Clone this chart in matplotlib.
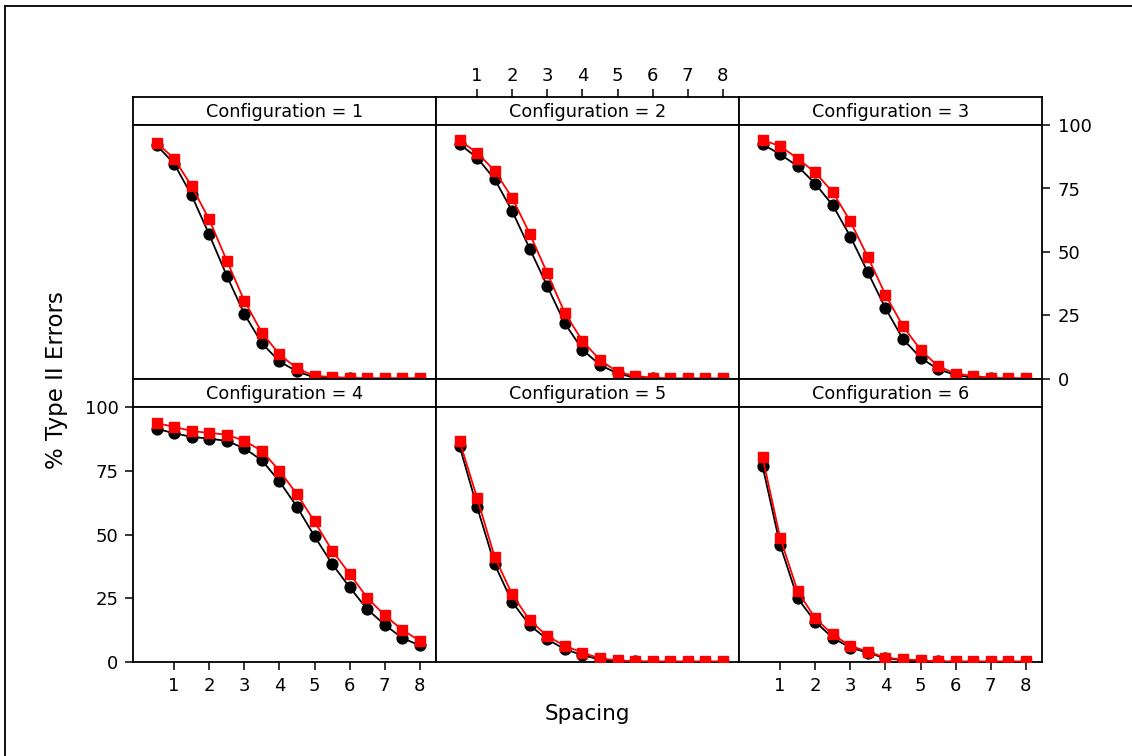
import matplotlib
matplotlib.use("Agg")
import matplotlib.pyplot as plt
from matplotlib.lines import Line2D

plt.rcParams['font.family'] = ['DejaVu Sans']

W, H = 1132, 756

spacing = [0.5, 1.0, 1.5, 2.0, 2.5, 3.0, 3.5, 4.0, 4.5, 5.0, 5.5, 6.0, 6.5, 7.0, 7.5, 8.0]
config_labels = ["Configuration = 1", "Configuration = 2", "Configuration = 3",
                 "Configuration = 4", "Configuration = 5", "Configuration = 6"]

# % Type II errors, black circles and red squares, one pair per configuration
conf1_black = [92.1, 84.8, 72.3, 56.9, 40.7, 25.6, 14.1, 6.9, 3.0, 0.6, 0.3, 0.2, 0.1, 0.1, 0.1, 0.1]
conf1_red = [93.1, 86.8, 75.9, 62.8, 46.6, 30.8, 18.3, 9.7, 4.2, 1.2, 0.8, 0.4, 0.3, 0.3, 0.3, 0.3]

conf2_black = [92.5, 87.1, 78.7, 66.1, 51.3, 36.5, 21.9, 11.6, 5.5, 2.2, 0.5, 0.2, 0.1, 0.1, 0.1, 0.1]
conf2_red = [93.9, 89.1, 82.0, 71.3, 57.2, 41.6, 26.0, 15.0, 7.5, 2.8, 1.2, 0.5, 0.2, 0.2, 0.2, 0.2]

conf3_black = [92.4, 88.5, 83.8, 76.9, 68.4, 56.1, 42.0, 27.9, 15.7, 8.4, 3.8, 1.6, 0.5, 0.2, 0.1, 0.1]
conf3_red = [94.1, 91.7, 86.8, 81.3, 73.6, 62.1, 48.0, 33.2, 20.8, 11.5, 5.0, 2.1, 1.2, 0.5, 0.3, 0.3]

conf4_black = [91.5, 89.7, 88.3, 87.6, 86.7, 83.8, 79.1, 70.8, 60.9, 49.3, 38.5, 29.3, 20.7, 14.6, 9.4, 6.5]
conf4_red = [93.7, 92.2, 90.6, 89.8, 89.2, 86.7, 82.8, 75.0, 65.8, 55.1, 43.7, 34.6, 25.2, 18.3, 12.6, 8.3]

conf5_black = [84.7, 60.8, 38.3, 23.5, 14.4, 8.9, 5.0, 2.7, 1.0, 0.4, 0.2, 0.1, 0.1, 0.1, 0.1, 0.1]
conf5_red = [86.7, 64.4, 41.2, 26.5, 16.3, 10.2, 6.3, 3.7, 1.4, 0.7, 0.2, 0.2, 0.2, 0.2, 0.2, 0.2]

conf6_black = [76.9, 45.9, 25.0, 15.8, 9.5, 5.6, 3.7, 1.4, 0.8, 0.4, 0.2, 0.1, 0.1, 0.1, 0.1, 0.1]
conf6_red = [80.4, 48.8, 27.8, 17.1, 10.8, 6.3, 4.1, 1.7, 1.0, 0.7, 0.2, 0.2, 0.2, 0.2, 0.2, 0.2]

black_series = [conf1_black, conf2_black, conf3_black, conf4_black, conf5_black, conf6_black]
red_series = [conf1_red, conf2_red, conf3_red, conf4_red, conf5_red, conf6_red]

x_ticks = [1, 2, 3, 4, 5, 6, 7, 8]
y_ticks = [0, 25, 50, 75, 100]
XLIM = (-0.17, 8.46)
YLIM = (0, 100)

# panel geometry in pixels
col_x = [133, 436, 739]
panel_w = 303
row_strip = [(97, 125), (379, 407)]
row_plot = [(125, 379), (407, 662)]


def box(x0, y0, x1, y1):
    return [x0 / W, 1 - y1 / H, (x1 - x0) / W, (y1 - y0) / H]


fig = plt.figure(figsize=(W / 100, H / 100), dpi=100)

# outer frame: only the top and left edges fall inside the canvas
fig.add_artist(Line2D([4.5 / W, 1.0], [1 - 6 / H, 1 - 6 / H], transform=fig.transFigure,
                      color='black', linewidth=1.3))
fig.add_artist(Line2D([4.5 / W, 4.5 / W], [0.0, 1 - 6 / H], transform=fig.transFigure,
                      color='black', linewidth=1.3))

tick_kw = dict(direction='out', length=5.5, width=1.1, labelsize=13, color='black')

for i in range(6):
    r, c = divmod(i, 3)
    x0 = col_x[c]
    x1 = x0 + panel_w

    ax_s = fig.add_axes(box(x0, row_strip[r][0], x1, row_strip[r][1]))
    ax_s.set_xlim(XLIM)
    ax_s.set_yticks([])
    ax_s.set_xticks([])
    ax_s.text(0.5, 0.48, config_labels[i], transform=ax_s.transAxes,
              ha='center', va='center', fontsize=12.7)

    ax = fig.add_axes(box(x0, row_plot[r][0], x1, row_plot[r][1]))
    ax.plot(spacing, black_series[i], color='black', marker='o', markersize=7.8,
            linewidth=1.3, zorder=3)
    ax.plot(spacing, red_series[i], color='#ff0000', marker='s', markersize=7.0,
            linewidth=1.3, zorder=4)
    ax.set_xlim(XLIM)
    ax.set_ylim(YLIM)
    ax.set_xticks([])
    ax.set_yticks([])

    for a in (ax, ax_s):
        for sp in a.spines.values():
            sp.set_linewidth(1.3)

    if i == 1:
        ax_s.set_xticks(x_ticks)
        ax_s.tick_params(axis='x', top=True, labeltop=True, bottom=False,
                         labelbottom=False, pad=3, **tick_kw)
    if i == 2:
        ax.set_yticks(y_ticks)
        ax.tick_params(axis='y', left=False, labelleft=False, right=True,
                       labelright=True, pad=6, **tick_kw)
    if i == 3:
        ax.set_yticks(y_ticks)
        ax.tick_params(axis='y', pad=5, **tick_kw)
    if i in (3, 5):
        ax.set_xticks(x_ticks)
        ax.tick_params(axis='x', pad=5, **tick_kw)

fig.text(57 / W, 1 - 380 / H, "% Type II Errors", rotation=90,
         ha='center', va='center', fontsize=16.5)
fig.text(587 / W, 1 - 714 / H, "Spacing", ha='center', va='center', fontsize=15.5)

fig.savefig("out.png", dpi=100)
plt.close(fig)
